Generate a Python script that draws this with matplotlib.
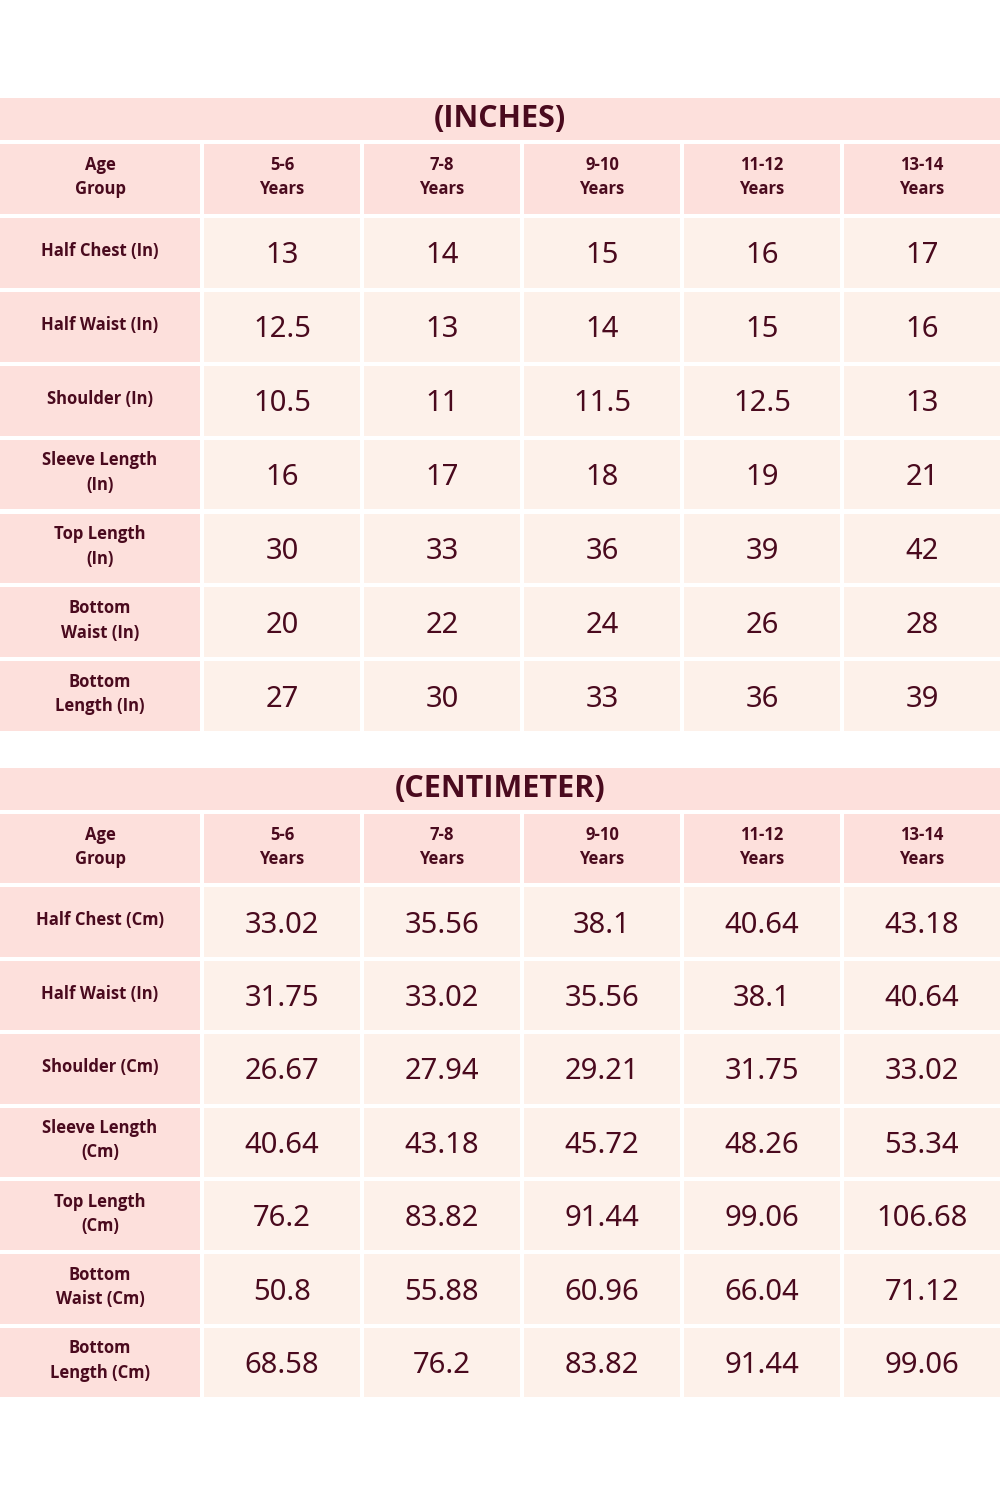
import matplotlib
matplotlib.use("Agg")
import matplotlib.pyplot as plt
from matplotlib.patches import Rectangle

ages = ["5-6\nYears", "7-8\nYears", "9-10\nYears", "11-12\nYears", "13-14\nYears"]
inch_labels = ["Half Chest (In)", "Half Waist (In)", "Shoulder (In)", "Sleeve Length\n(In)",
               "Top Length\n(In)", "Bottom\nWaist (In)", "Bottom\nLength (In)"]
inch_values = [["13", "14", "15", "16", "17"],
               ["12.5", "13", "14", "15", "16"],
               ["10.5", "11", "11.5", "12.5", "13"],
               ["16", "17", "18", "19", "21"],
               ["30", "33", "36", "39", "42"],
               ["20", "22", "24", "26", "28"],
               ["27", "30", "33", "36", "39"]]
cm_labels = ["Half Chest (Cm)", "Half Waist (In)", "Shoulder (Cm)", "Sleeve Length\n(Cm)",
             "Top Length\n(Cm)", "Bottom\nWaist (Cm)", "Bottom\nLength (Cm)"]
cm_values = [["33.02", "35.56", "38.1", "40.64", "43.18"],
             ["31.75", "33.02", "35.56", "38.1", "40.64"],
             ["26.67", "27.94", "29.21", "31.75", "33.02"],
             ["40.64", "43.18", "45.72", "48.26", "53.34"],
             ["76.2", "83.82", "91.44", "99.06", "106.68"],
             ["50.8", "55.88", "60.96", "66.04", "71.12"],
             ["68.58", "76.2", "83.82", "91.44", "99.06"]]

PINK = "#fde0dc"
LIGHT = "#fdf1ea"
TXT = "#4a0a1e"
BFONT = ["Open Sans", "DejaVu Sans"]
FONT = ["Noto Sans", "DejaVu Sans"]

fig = plt.figure(figsize=(10, 15), dpi=100)
ax = fig.add_axes([0, 0, 1, 1])
ax.set_xlim(0, 1000)
ax.set_ylim(1500, 0)
ax.axis("off")

col_x = [0, 204, 364, 524, 684, 844, 1000]
gap = 4

def table(title, top, labels, values, rh):
    ax.add_patch(Rectangle((0, top), 1000, 42, color=PINK, lw=0))
    ax.text(500, top + 21, title, ha="center", va="center", fontsize=22,
            fontweight="bold", color=TXT, family=BFONT)
    y0 = top + 46
    rows = [("Age\nGroup", ages, True)] + [(l, v, False) for l, v in zip(labels, values)]
    for r, (lab, vals, hdr) in enumerate(rows):
        y = y0 + r * rh
        h = rh - gap
        ax.add_patch(Rectangle((0, y), col_x[1] - gap, h, color=PINK, lw=0))
        ax.text((col_x[1] - gap) / 2, y + h / 2 - 2, lab, ha="center", va="center",
                fontsize=12, fontweight="bold", color=TXT, family=BFONT, linespacing=1.45)
        for c, v in enumerate(vals):
            x1, x2 = col_x[c + 1], col_x[c + 2] - (gap if c < 4 else 0)
            ax.add_patch(Rectangle((x1, y), x2 - x1, h, color=PINK if hdr else LIGHT, lw=0))
            if hdr:
                ax.text((x1 + x2) / 2, y + h / 2 - 2, v, ha="center", va="center",
                        fontsize=12, fontweight="bold", color=TXT, family=BFONT, linespacing=1.45)
            else:
                ax.text((x1 + x2) / 2, y + h / 2 + 3, v, ha="center", va="center",
                        fontsize=21, color=TXT, family=FONT)

table("(INCHES)", 98, inch_labels, inch_values, 73.9)
table("(CENTIMETER)", 768, cm_labels, cm_values, 73.4)

fig.savefig("out.png", dpi=100, facecolor="white")
